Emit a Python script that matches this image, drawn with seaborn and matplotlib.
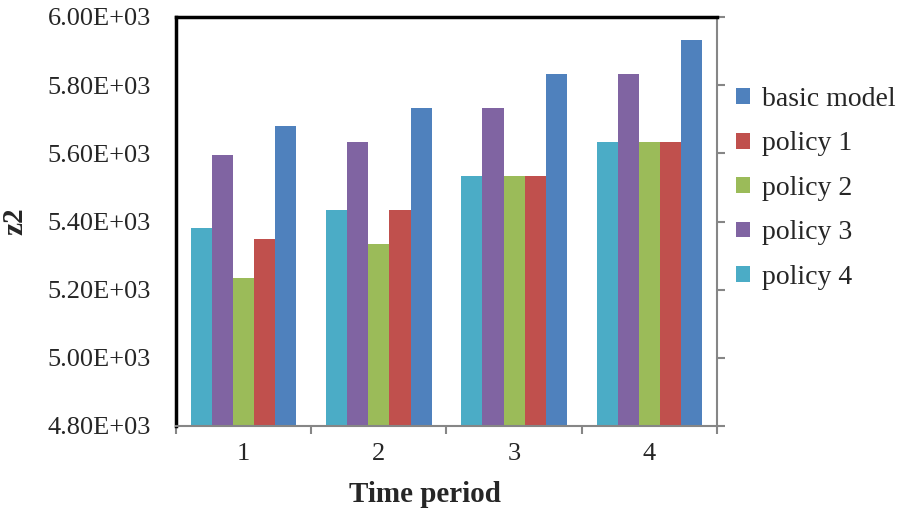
import pandas as pd
import matplotlib
matplotlib.use('Agg')
import matplotlib.pyplot as plt
import seaborn as sns
from matplotlib.ticker import FixedLocator, FuncFormatter

periods = ['1', '2', '3', '4']
series_order = ['policy 4', 'policy 3', 'policy 2', 'policy 1', 'basic model']
basic_model = [5680, 5733, 5833, 5933]
policy_1 = [5349, 5434, 5534, 5633]
policy_2 = [5234, 5334, 5534, 5633]
policy_3 = [5595, 5633, 5733, 5833]
policy_4 = [5380, 5434, 5534, 5633]
colors = {'basic model': '#4F81BD', 'policy 1': '#C0504D', 'policy 2': '#9BBB59',
          'policy 3': '#8064A2', 'policy 4': '#4BACC6'}

values = {'basic model': basic_model, 'policy 1': policy_1, 'policy 2': policy_2,
          'policy 3': policy_3, 'policy 4': policy_4}
rows = []
for name, vals in values.items():
    for p, v in zip(periods, vals):
        rows.append({'Time period': p, 'z2': v, 'series': name})
df = pd.DataFrame(rows)

sns.set_style('white')
plt.rcParams['font.family'] = ['Liberation Serif', 'DejaVu Serif']

fig = plt.figure(figsize=(9.04, 5.16), dpi=100)
ax = fig.add_axes([176 / 904, 90 / 516, 541 / 904, 409 / 516])

sns.barplot(data=df, x='Time period', y='z2', hue='series', order=periods,
            hue_order=series_order, palette=colors, width=0.78, saturation=1,
            linewidth=0, ax=ax)

ax.set_ylim(4800, 6000)
ax.set_xlim(-0.5, 3.5)
ax.yaxis.set_major_locator(FixedLocator([4800, 5000, 5200, 5400, 5600, 5800, 6000]))
ax.yaxis.set_major_formatter(FuncFormatter(lambda v, p: '%.2fE+03' % (v / 1000)))

gray = '#868686'
for s in ['left', 'top']:
    ax.spines[s].set_color('black')
    ax.spines[s].set_linewidth(2.5)
for s in ['bottom', 'right']:
    ax.spines[s].set_color(gray)
    ax.spines[s].set_linewidth(1.5)
    ax.spines[s].set_visible(True)

ax.tick_params(axis='y', left=False, right=True, labelleft=True, labelright=False,
               direction='out', length=6, width=1.5, color=gray, labelsize=19, pad=12)
ax.xaxis.set_minor_locator(FixedLocator([-0.5, 0.5, 1.5, 2.5, 3.5]))
ax.tick_params(axis='x', which='major', length=0, labelsize=19, pad=12)
ax.tick_params(axis='x', which='minor', bottom=True, direction='out', length=6,
               width=1.5, color=gray)

ax.set_xlabel('Time period', fontsize=21, fontweight='bold')
ax.xaxis.set_label_coords(0.46, -0.135)
ax.set_ylabel('z2', fontsize=21, fontweight='bold', labelpad=14)

handles, labels = ax.get_legend_handles_labels()
ax.legend(handles[::-1], labels[::-1], loc='upper left',
          bbox_to_anchor=(736 / 904, 429 / 516), bbox_transform=fig.transFigure,
          frameon=False, fontsize=20, handlelength=0.5, handleheight=0.5,
          handletextpad=0.45, labelspacing=0.7, borderpad=0, borderaxespad=0)

fig.savefig('out.png', dpi=100)
